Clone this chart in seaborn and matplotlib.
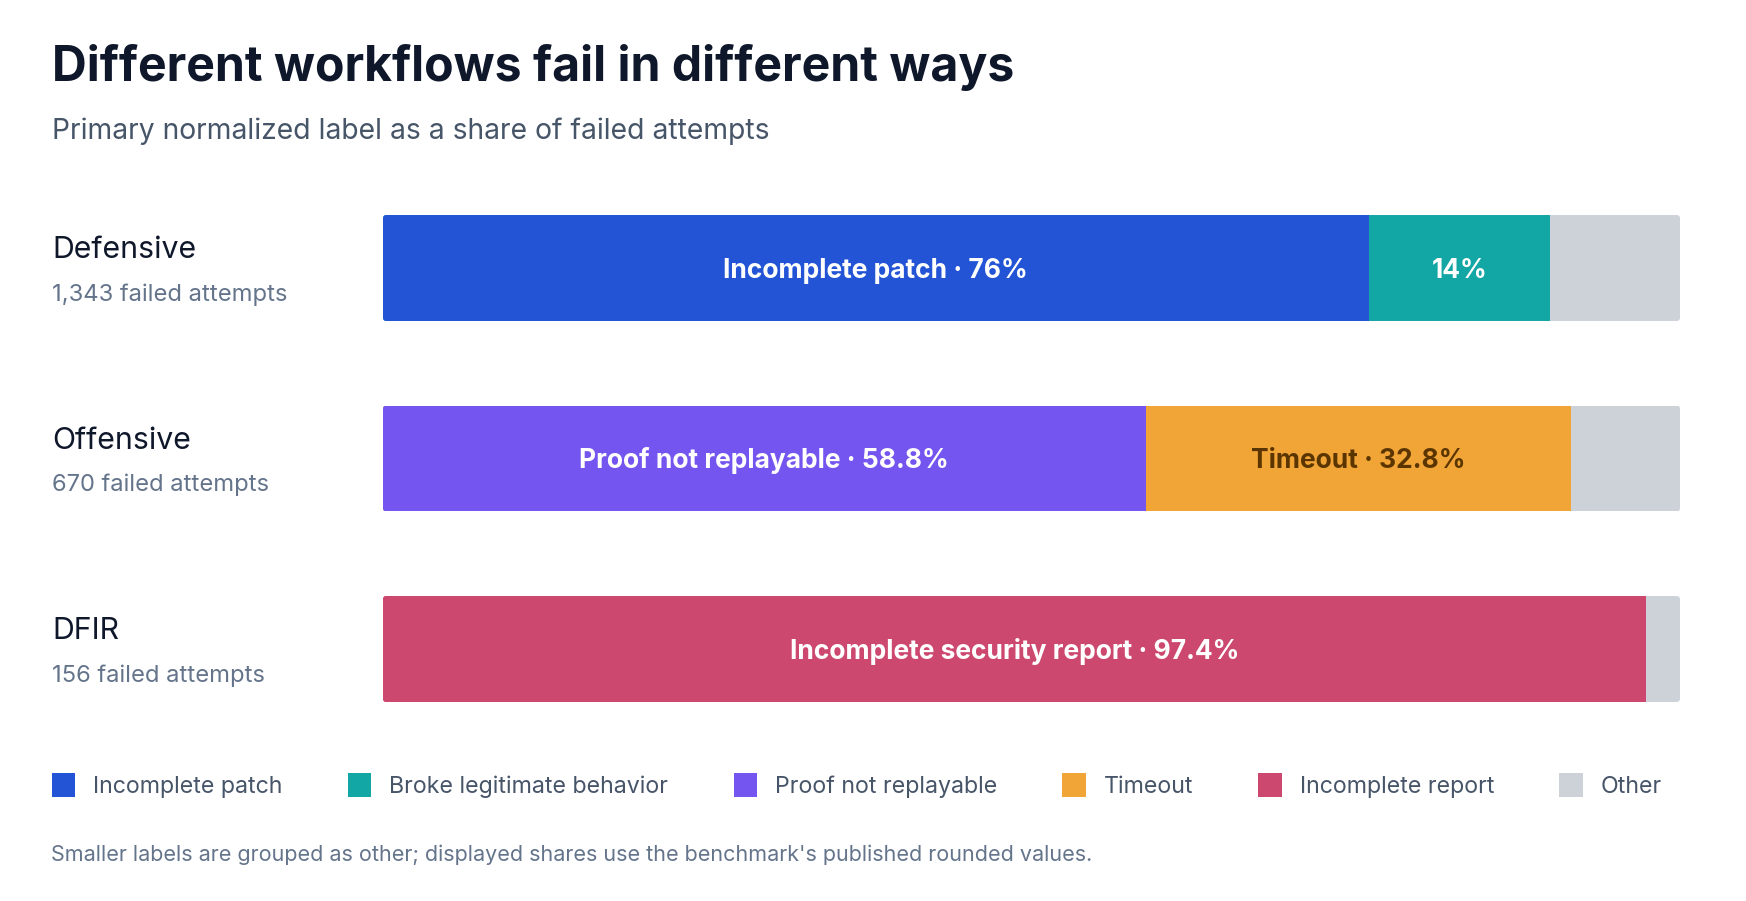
import matplotlib
matplotlib.use("Agg")
import matplotlib.pyplot as plt
from matplotlib.patches import Patch, FancyBboxPatch
import seaborn as sns
import pandas as pd

# ---- data ----
workflows = ["Defensive", "Offensive", "DFIR"]
failed_attempts = ["1,343 failed attempts", "670 failed attempts", "156 failed attempts"]
seg1_labels = ["Incomplete patch", "Proof not replayable", "Incomplete report"]
seg1_values = [76.0, 58.8, 97.4]
seg1_text = ["Incomplete patch · 76%", "Proof not replayable · 58.8%", "Incomplete security report · 97.4%"]
seg2_labels = ["Broke legitimate behavior", "Timeout", None]
seg2_values = [14.0, 32.8, 0.0]
seg2_text = ["14%", "Timeout · 32.8%", None]
legend_labels = ["Incomplete patch", "Broke legitimate behavior", "Proof not replayable",
                 "Timeout", "Incomplete report", "Other"]
total_share = 100.0

palette = {
    "Incomplete patch": "#2354D6",
    "Broke legitimate behavior": "#12A6A4",
    "Proof not replayable": "#7455EF",
    "Timeout": "#F2A537",
    "Incomplete report": "#CD486E",
    "Other": "#CDD2D9",
}
text_colors = {
    "Incomplete patch": "white",
    "Broke legitimate behavior": "white",
    "Proof not replayable": "white",
    "Timeout": "#5A3500",
    "Incomplete report": "white",
}

sns.set_theme(style="white")
FONT = ["Inter", "DejaVu Sans"]
plt.rcParams["font.family"] = FONT

W, H = 1746, 901
AX_W, AX_H = 1297, 571.5
fig = plt.figure(figsize=(W / 100, H / 100), dpi=100)
fig.patch.set_facecolor("white")
ax = fig.add_axes([383 / W, 1 - 744.25 / H, AX_W / W, AX_H / H])

# layered (stacked) data
layer_total = pd.DataFrame({"workflow": workflows, "share": [total_share] * 3, "label": ["Other"] * 3})
layer2 = pd.DataFrame({
    "workflow": workflows,
    "share": [a + b for a, b in zip(seg1_values, seg2_values)],
    "label": [l2 if l2 is not None else l1 for l1, l2 in zip(seg1_labels, seg2_labels)],
})
layer1 = pd.DataFrame({"workflow": workflows, "share": seg1_values, "label": seg1_labels})

outer = None
for layer in (layer_total, layer2, layer1):
    sns.barplot(data=layer, x="share", y="workflow", hue="label", palette=palette,
                order=workflows, dodge=False, width=0.556, saturation=1,
                linewidth=0, legend=False, ax=ax)
    if outer is None:
        outer = list(ax.patches)

ax.set_xlim(0, total_share)
ax.set_ylim(2.5, -0.5)
ax.set_xlabel("")
ax.set_ylabel("")
ax.set_xticks([])
ax.set_yticks([])
for s in ax.spines.values():
    s.set_visible(False)
ax.set_facecolor("white")

# slightly rounded bar ends: clip every segment to the rounded outline of its full bar
radius_px = 3.5
r_x = radius_px * total_share / AX_W
aspect = (3.0 / AX_H) / (total_share / AX_W)
for p in outer:
    x0, y0, w, h = p.get_x(), p.get_y(), p.get_width(), p.get_height()
    clip = FancyBboxPatch((x0, y0), w, h, boxstyle=f"round,pad=0,rounding_size={r_x}",
                          mutation_aspect=aspect, transform=ax.transData)
    yc = y0 + h / 2
    for q in ax.patches:
        if abs(q.get_y() + q.get_height() / 2 - yc) < 1e-6:
            q.set_clip_path(clip)

# in-bar labels (cap-height centred)
for i in range(len(workflows)):
    v1 = seg1_values[i]
    ax.annotate(seg1_text[i], xy=(v1 / 2, i), xytext=(0, -7), textcoords="offset points",
                ha="center", va="baseline", fontsize=19, fontweight="bold",
                color=text_colors[seg1_labels[i]])
    if seg2_text[i] is not None:
        v2 = seg2_values[i]
        ax.annotate(seg2_text[i], xy=(v1 + v2 / 2, i), xytext=(0, -7), textcoords="offset points",
                    ha="center", va="baseline", fontsize=19, fontweight="bold",
                    color=text_colors[seg2_labels[i]])

# row labels
for i, (name, sub) in enumerate(zip(workflows, failed_attempts)):
    ax.annotate(name, xy=(52 / W, i), xycoords=("figure fraction", "data"),
                xytext=(0, 7), textcoords="offset points", va="baseline", ha="left",
                fontsize=21.8, color="#0F172A")
    ax.annotate(sub, xy=(52 / W, i), xycoords=("figure fraction", "data"),
                xytext=(0, -23.5), textcoords="offset points", va="baseline", ha="left",
                fontsize=17.1, color="#64748B")

# title & subtitle
fig.text(52 / W, 1 - 81 / H, "Different workflows fail in different ways", fontsize=34.7,
         fontweight="bold", color="#0F172A", va="baseline", ha="left")
fig.text(52 / W, 1 - 139 / H, "Primary normalized label as a share of failed attempts",
         fontsize=20.35, color="#475569", va="baseline", ha="left")

# legend
handles = [Patch(facecolor=palette[l], edgecolor="none", label=l) for l in legend_labels]
leg = fig.legend(handles=handles, loc="center left", ncol=6, mode="expand",
                 bbox_to_anchor=(52 / W, 1 - 785.5 / H, (1662 - 52) / W, 0.0001),
                 bbox_transform=fig.transFigure, frameon=False, fontsize=16.7,
                 handlelength=1.0, handleheight=1.25, handletextpad=0.78,
                 borderaxespad=0, borderpad=0, columnspacing=1.0)
for t in leg.get_texts():
    t.set_color("#475569")

# footnote
fig.text(51 / W, 1 - 861 / H,
         "Smaller labels are grouped as other; displayed shares use the benchmark's published rounded values.",
         fontsize=15.5, color="#64748B", va="baseline", ha="left")

fig.savefig("out.png", dpi=100, facecolor="white")
